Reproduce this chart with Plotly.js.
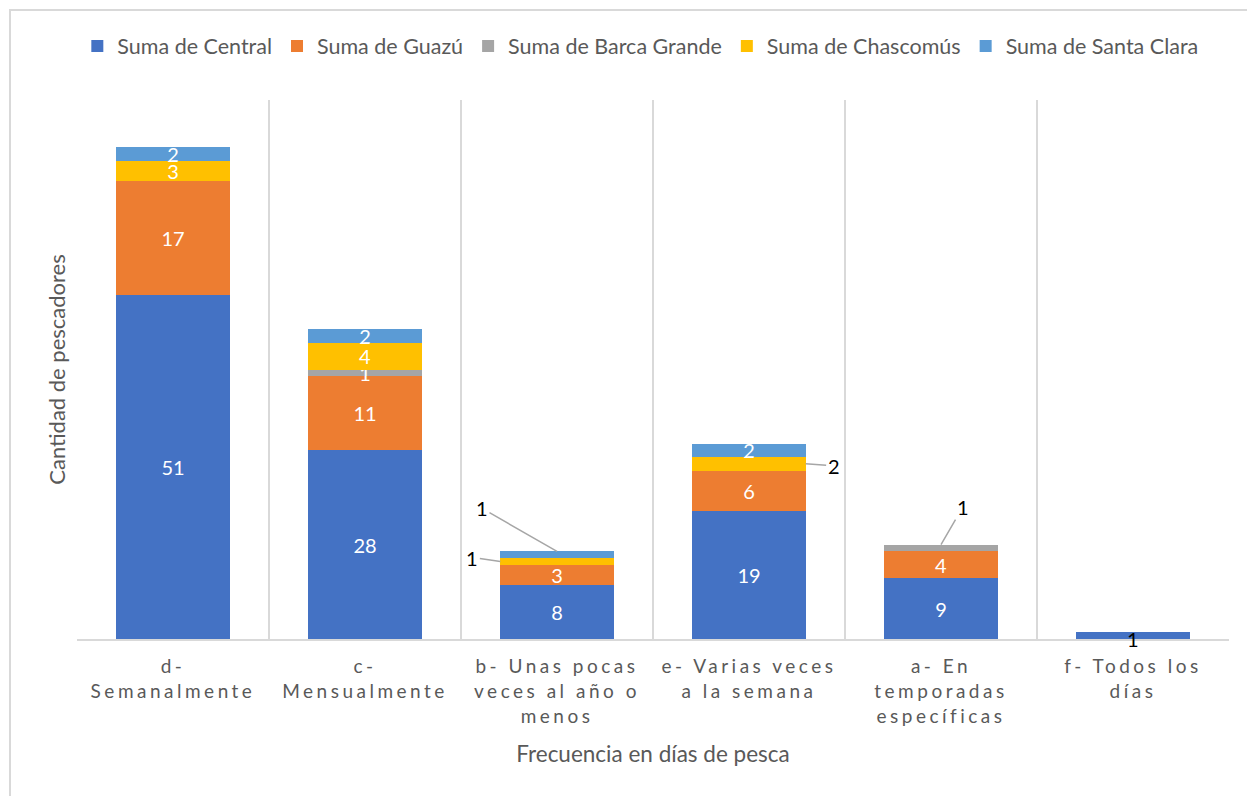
<!DOCTYPE html>
<html>
<head>
<meta charset="utf-8">
<script src="https://cdn.plot.ly/plotly-3.0.1.min.js"></script>
<style>
  html, body { margin: 0; padding: 0; background: #fff; }
  #frame { position: absolute; left: 9px; top: 9px; width: 1300px; height: 850px;
           border-left: 2px solid #d9d9d9; border-top: 2px solid #d9d9d9; pointer-events: none; }
  #chart { position: absolute; left: 0; top: 0; width: 1247px; height: 796px; }
  #chart .xtick text { letter-spacing: 3.5px; }
</style>
</head>
<body>
<div id="chart"></div>
<div id="frame"></div>
<script>
// ---- data ----
const categories = ["d- Semanalmente", "c- Mensualmente", "b- Unas pocas veces al año o menos",
                    "e- Varias veces a la semana", "a- En temporadas específicas", "f- Todos los días"];
const tickLabels = ["d-<br>Semanalmente", "c-<br>Mensualmente", "b- Unas pocas<br>veces al año o<br>menos",
                    "e- Varias veces<br>a la semana", "a- En<br>temporadas<br>específicas", "f- Todos los<br>días"];
const seriesNames = ["Suma de Central", "Suma de Guazú", "Suma de Barca Grande", "Suma de Chascomús", "Suma de Santa Clara"];
const central     = [51, 28, 8, 19, 9, 1];
const guazu       = [17, 11, 3, 6, 4, 0];
const barcaGrande = [0, 1, 0, 0, 1, 0];
const chascomus   = [3, 4, 1, 2, 0, 0];
const santaClara  = [2, 2, 1, 2, 0, 0];
const colors = ["#4472C4", "#ED7D31", "#A5A5A5", "#FFC000", "#5B9BD5"];

// labels drawn outside the bars (series index, category index)
const outsideLabels = [[3, 2], [4, 2], [3, 3], [2, 4], [0, 5]];

const allSeries = [central, guazu, barcaGrande, chascomus, santaClara];
const barWidth = 0.59;
const fontFam = "Lato, 'Liberation Sans', sans-serif";

function isOutside(s, c) { return outsideLabels.some(p => p[0] === s && p[1] === c); }

const traces = allSeries.map((vals, s) => ({
  type: "bar",
  name: seriesNames[s],
  x: categories,
  y: vals,
  width: barWidth,
  marker: { color: colors[s] },
  text: vals.map((v, c) => (v > 0 && !isOutside(s, c)) ? String(v) : ""),
  textposition: "inside",
  insidetextanchor: "middle",
  textangle: 0,
  constraintext: "none",
  textfont: { color: "#ffffff", size: 20, family: fontFam },
  hoverinfo: "skip"
}));

// cumulative helpers for outside labels
function base(s, c) { let b = 0; for (let i = 0; i < s; i++) b += allSeries[i][c]; return b; }
function topOf(s, c) { return base(s, c) + allSeries[s][c]; }
function midOf(s, c) { return base(s, c) + allSeries[s][c] / 2; }

const leader = { showarrow: true, arrowhead: 0, arrowwidth: 1.5, arrowcolor: "#a6a6a6",
                 font: { color: "#000000", size: 20, family: fontFam } };
const annotations = [
  // b - Santa Clara
  Object.assign({}, leader, { x: 2, y: topOf(4, 2), xref: "x", yref: "y", text: String(santaClara[2]), ax: -75, ay: -43 }),
  // b - Chascomús
  Object.assign({}, leader, { x: 2 - barWidth / 2, y: midOf(3, 2), xref: "x", yref: "y", text: String(chascomus[2]), ax: -28, ay: -4 }),
  // e - Chascomús
  Object.assign({}, leader, { x: 3 + barWidth / 2, y: midOf(3, 3), xref: "x", yref: "y", text: String(chascomus[3]), ax: 28, ay: 2 }),
  // a - Barca Grande
  Object.assign({}, leader, { x: 4, y: topOf(2, 4), xref: "x", yref: "y", text: String(barcaGrande[4]), ax: 22, ay: -38 }),
  // f - Central
  { x: 5, y: midOf(0, 5), xref: "x", yref: "y", text: String(central[5]), showarrow: false, yshift: -3,
    font: { color: "#000000", size: 20, family: fontFam } }
];

const layout = {
  width: 1247, height: 796,
  margin: { l: 77, r: 18, t: 100, b: 157 },
  paper_bgcolor: "#ffffff", plot_bgcolor: "#ffffff",
  barmode: "stack",
  font: { family: fontFam, color: "#595959" },
  showlegend: true,
  legend: { orientation: "h", x: 0.489, xanchor: "center", y: 1.10, yanchor: "middle",
            font: { size: 21.5, color: "#595959", family: fontFam }, traceorder: "normal" },
  xaxis: {
    type: "category",
    tickvals: categories, ticktext: tickLabels,
    tickson: "boundaries",
    ticks: "", showgrid: true, gridcolor: "#d9d9d9", gridwidth: 1.5,
    showline: true, linecolor: "#d9d9d9", linewidth: 1.5,
    tickfont: { size: 19, color: "#595959", family: fontFam },
    ticklabelstandoff: 10,
    range: [-0.5, 5.5],
    title: { text: "Frecuencia en días de pesca", font: { size: 22.5, color: "#595959", family: fontFam }, standoff: 20 }
  },
  yaxis: {
    range: [0, 80],
    showticklabels: false, showgrid: false, zeroline: false, showline: false, ticks: "",
    title: { text: "Cantidad de pescadores", font: { size: 22, color: "#595959", family: fontFam }, standoff: 4 }
  },
  annotations: annotations
};

Plotly.newPlot("chart", traces, layout, { displayModeBar: false, staticPlot: true });
</script>
</body>
</html>
